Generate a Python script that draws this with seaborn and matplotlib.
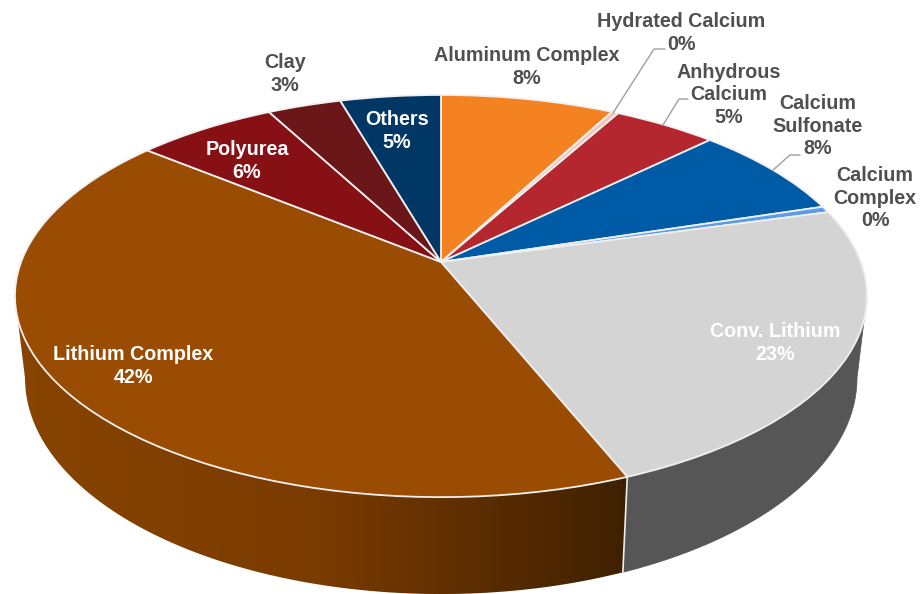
import numpy as np
import matplotlib
matplotlib.use('Agg')
import matplotlib.pyplot as plt
import matplotlib.transforms as mtransforms
from matplotlib.colors import LinearSegmentedColormap
from matplotlib.patches import Polygon
import seaborn as sns

# Share of each grease type, clockwise from 12 o'clock
categories = ['Aluminum Complex', 'Hydrated Calcium', 'Anhydrous\nCalcium', 'Calcium\nSulfonate',
              'Calcium\nComplex', 'Conv. Lithium', 'Lithium Complex', 'Polyurea', 'Clay', 'Others']
values = [7.75, 0.3, 4.65, 7.5, 0.5, 23.2, 42.0, 6.3, 3.3, 4.5]
shown_pct = [8, 0, 5, 8, 0, 23, 42, 6, 3, 5]
colors = ['#F58220', '#F6C4B4', '#B5272E', '#005BA6', '#5B9BE8',
          '#D4D4D4', '#9B4C03', '#861014', '#6B1719', '#003764']

# Label centres in image pixels, and colour
label_xy = [(527, 67), (681, 33), (729, 95), (818, 126), (875, 198),
            (775, 343), (133, 366), (247, 161), (285, 74), (397, 131)]
label_colors = ['#505050', '#505050', '#505050', '#505050', '#505050',
                'white', 'white', 'white', '#505050', 'white']

# Leader lines in image pixels
leaders = [[(665, 49), (654, 49), (613, 113)],
           [(688, 99), (679, 99), (663, 125)],
           [(800, 155), (790, 155), (773, 170)]]

# Perspective of the tilted disc (fitted to the reference outline)
APEX_X, APEX_Y = 441, 262
C = 0.1692
A = 195.3
K = 419.9
# same perspective for the lower rim of the side wall
LOW_Y = 341.5
LOW_A = 209.8
LOW_K = 410.0


class TiltedDisc(mtransforms.Transform):
    input_dims = 2
    output_dims = 2
    is_separable = False
    has_inverse = False

    def transform_non_affine(self, values):
        values = np.asarray(values, dtype=float)
        x, y = values[:, 0], values[:, 1]
        w = 1 + C * y
        return np.column_stack([APEX_X + K * x / w, APEX_Y - A * y / w])


def rim(theta, low=False):
    # theta in degrees, clockwise from the top of the disc
    t = np.radians(theta)
    x, y = np.sin(t), np.cos(t)
    w = 1 + C * y
    if low:
        return np.column_stack([APEX_X + LOW_K * x / w, LOW_Y - LOW_A * y / w])
    return np.column_stack([APEX_X + K * x / w, APEX_Y - A * y / w])


def wall(theta1, theta2):
    th = np.linspace(theta1, theta2, 200)
    return np.vstack([rim(th), rim(th, low=True)[::-1]])


sns.set_theme(style='white')
plt.rcParams['font.family'] = ['Liberation Sans', 'DejaVu Sans']

fig, ax = plt.subplots(figsize=(9.21, 5.94), dpi=100)
fig.subplots_adjust(left=0, right=1, bottom=0, top=1)

wedges, _ = ax.pie(values, colors=sns.color_palette(colors), startangle=90, counterclock=False,
                   radius=1, wedgeprops={'edgecolor': '#F0F0F0', 'linewidth': 1.3})
disc = TiltedDisc() + ax.transData
for w in wedges:
    w.set_transform(disc)
    w.set_zorder(3)

ax.set_aspect('auto')
ax.set_xlim(0, 921)
ax.set_ylim(594, 0)
ax.axis('off')

# Side walls: only the two front slices show
cum = np.cumsum(values) / np.sum(values) * 360
seam = cum[5]
edge_right = np.degrees(np.arccos(-C))
edge_left = 360 - edge_right

ax.add_patch(Polygon(wall(edge_right, seam), closed=True, facecolor='#565656', edgecolor='#565656',
                     linewidth=0.5, zorder=1))

brown = LinearSegmentedColormap.from_list('wall', ['#884400', '#7A3B01', '#3E2000'])
lith_wall = Polygon(wall(seam, edge_left), closed=True, facecolor='none', edgecolor='none', zorder=1)
ax.add_patch(lith_wall)
img = ax.imshow(np.linspace(0, 1, 256)[None, :], cmap=brown, extent=(14, 627, 600, 280),
                aspect='auto', zorder=1)
img.set_clip_path(lith_wall)
ax.set_xlim(0, 921)
ax.set_ylim(594, 0)

seam_line = np.vstack([rim(np.array([seam])), rim(np.array([seam]), low=True)])
ax.plot(seam_line[:, 0], seam_line[:, 1], color='#EDEDED', lw=1.2, zorder=2)

for path in leaders:
    xs, ys = zip(*path)
    ax.plot(xs, ys, color='#A0A0A0', lw=1.0, zorder=4)

for name, pct, (x, y), col in zip(categories, shown_pct, label_xy, label_colors):
    ax.text(x, y, f'{name}\n{pct}%', ha='center', va='center', color=col, fontsize=14.2,
            fontweight='bold', linespacing=1.22, zorder=5)

plt.savefig('out.png', dpi=100)
plt.close()
